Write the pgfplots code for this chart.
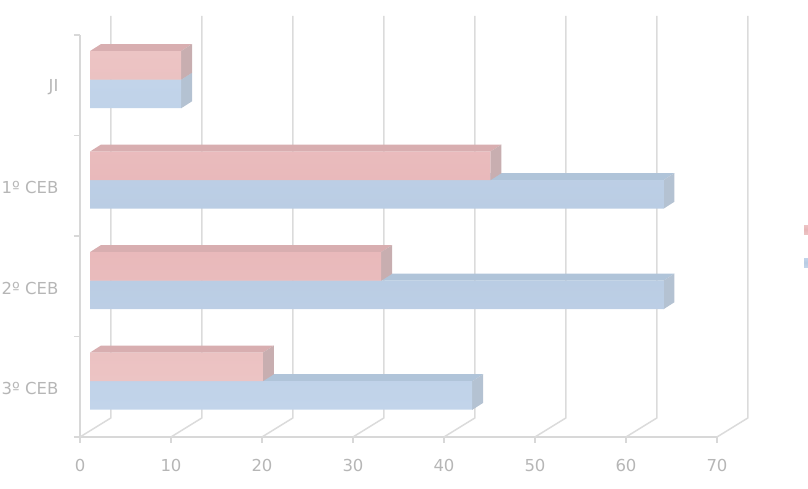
\documentclass[border=0pt]{standalone}
\usepackage{fontspec}
\setmainfont{DejaVu Sans}
\usepackage{pgfplots}
\pgfplotsset{compat=1.18}

\definecolor{gridgray}{RGB}{219,219,219}
\definecolor{axisgray}{RGB}{216,216,216}
\definecolor{labelgray}{RGB}{182,182,182}
\definecolor{redlight}{RGB}{236,196,196}
\definecolor{redmid}{RGB}{232,182,184}
\definecolor{redtop}{RGB}{216,174,176}
\definecolor{redside}{RGB}{200,174,176}
\definecolor{bluelight}{RGB}{194,212,234}
\definecolor{bluemid}{RGB}{184,203,226}
\definecolor{bluetop}{RGB}{176,196,217}
\definecolor{blueside}{RGB}{180,194,210}

% back wall line for one x tick: floor diagonal, then up the wall
\newcommand{\wall}[1]{%
  \pgfmathsetmacro\xb{#1+3.4}%
  \addplot[gridgray, line width=1.5pt, forget plot] coordinates {(#1,0) (\xb,0.19) (\xb,4.19)};
}
% top and side faces of a bar: value, y of top edge, y of bottom edge, top colour, side colour
\newcommand{\faces}[5]{%
  \pgfmathsetmacro\xe{#1+1.21}%
  \pgfmathsetmacro\yt{#2+0.07}%
  \pgfmathsetmacro\yb{#3+0.07}%
  \addplot[fill=#4, draw=none, xshift=10pt, forget plot] coordinates {(0,#2) (#1,#2) (\xe,\yt) (1.21,\yt)};
  \addplot[fill=#5, draw=none, xshift=10pt, forget plot] coordinates {(#1,#2) (\xe,\yt) (\xe,\yb) (#1,#3)};
}

\begin{document}
\begin{tikzpicture}[x=1pt,y=1pt]
\path[use as bounding box] (0,0) rectangle (808,489);
\clip (0,0) rectangle (808,489);
\begin{axis}[
    at={(80pt,52pt)}, anchor=south west,
    scale only axis,
    width=637pt, height=402pt,
    xmin=0, xmax=70, ymin=0, ymax=4,
    clip=false,
    axis x line*=bottom,
    axis y line*=left,
    axis line style={axisgray, line width=1.5pt, -},
    xtick={0,10,...,70},
    ytick={0,1,2,3,4},
    yticklabels={},
    extra y ticks={0.5,1.5,2.5,3.5},
    extra y tick labels={3º CEB,2º CEB,1º CEB,JI},
    extra y tick style={major tick length=0pt},
    tick align=outside,
    major tick length=6pt,
    tick style={axisgray, line width=1.3pt},
    tick label style={text=labelgray, font=\fontsize{16.5}{18}\selectfont},
    /pgf/number format/assume math mode=true,
    xticklabel style={yshift=-13pt},
    yticklabel style={xshift=-18pt, yshift=-2pt},
    legend style={at={(1.1366,0.475)}, anchor=west, draw=none, fill=none,
      inner sep=0pt, outer sep=0pt, row sep=24pt, nodes={inner sep=0pt}},
    reverse legend,
    legend image code/.code={\fill[#1] (0pt,-4.5pt) rectangle (9pt,4.5pt);},
]
\wall{0}\wall{10}\wall{20}\wall{30}\wall{40}\wall{50}\wall{60}\wall{70}

% blue series
\faces{10}{3.555}{3.27}{bluetop}{blueside}
\faces{63}{2.555}{2.27}{bluetop}{blueside}
\faces{63}{1.555}{1.27}{bluetop}{blueside}
\faces{42}{0.555}{0.27}{bluetop}{blueside}
\addplot[xbar, bar width=28.5pt, bar shift=-8.75pt, xshift=10pt, draw=none,
    top color=bluelight, bottom color=bluelight, middle color=bluemid]
  coordinates {(10,3.5) (63,2.5) (63,1.5) (42,0.5)};
\addlegendentry{}

% red series
\faces{10}{3.84}{3.555}{redtop}{redside}
\faces{44}{2.84}{2.555}{redtop}{redside}
\faces{32}{1.84}{1.555}{redtop}{redside}
\faces{19}{0.84}{0.555}{redtop}{redside}
\addplot[xbar, bar width=28.5pt, bar shift=19.75pt, xshift=10pt, draw=none,
    top color=redlight, bottom color=redlight, middle color=redmid]
  coordinates {(10,3.5) (44,2.5) (32,1.5) (19,0.5)};
\addlegendentry{}
\end{axis}
\end{tikzpicture}
\end{document}
